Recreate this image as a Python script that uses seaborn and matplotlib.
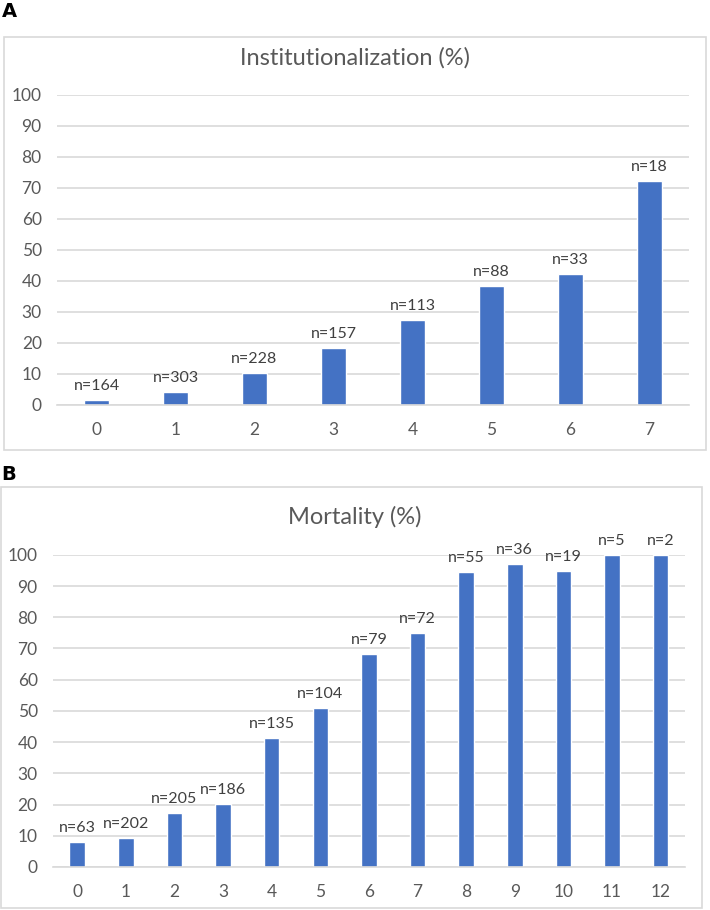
import numpy as np
import matplotlib
matplotlib.use('Agg')
import matplotlib.pyplot as plt
import seaborn as sns
import pandas as pd
from matplotlib.patches import Rectangle

# data
inst_cat = ['0', '1', '2', '3', '4', '5', '6', '7']
inst_pct = [1.6, 4.3, 10.3, 18.3, 27.3, 38.5, 42.3, 72.2]
inst_n = [164, 303, 228, 157, 113, 88, 33, 18]

mort_cat = ['0', '1', '2', '3', '4', '5', '6', '7', '8', '9', '10', '11', '12']
mort_pct = [8.0, 9.4, 17.4, 20.3, 41.4, 50.9, 68.3, 75.1, 94.5, 97.2, 94.8, 100, 100]
mort_n = [63, 202, 205, 186, 135, 104, 79, 72, 55, 36, 19, 5, 2]

sns.set_theme(style='white')
plt.rcParams['font.family'] = ['Lato', 'DejaVu Sans']

bar_col = '#4472C4'
grid_col = '#D9D9D9'
txt_col = '#595959'

fig = plt.figure(figsize=(7.1, 9.1), dpi=100)

# panel boxes
fig.patches.append(Rectangle((0.0056, 0.5055), 0.989, 0.4538, transform=fig.transFigure,
                             fill=False, edgecolor=grid_col, lw=1.2))
fig.patches.append(Rectangle((0.0014, 0.0022), 0.987, 0.4626, transform=fig.transFigure,
                             fill=False, edgecolor=grid_col, lw=1.2))

fig.text(0.002, 0.998, 'A', fontsize=14, fontweight='bold', va='top', ha='left',
         family='DejaVu Sans', color='black')
fig.text(0.002, 0.489, 'B', fontsize=14, fontweight='bold', va='top', ha='left',
         family='DejaVu Sans', color='black')


def panel(rect, cats, vals, ns, title, title_y):
    ax = fig.add_axes(rect)
    d = pd.DataFrame({'cat': cats, 'pct': vals})
    sns.barplot(data=d, x='cat', y='pct', color=bar_col, width=0.32,
                saturation=1, ax=ax)
    ax.bar_label(ax.containers[0], labels=[f'n={n}' for n in ns], padding=5,
                 fontsize=11.5, color='#404040')
    ax.set_ylim(0, 100)
    ax.set_yticks(range(0, 101, 10))
    ax.yaxis.grid(True, color=grid_col, lw=1.2)
    ax.set_axisbelow(True)
    for s in ['top', 'right', 'left']:
        ax.spines[s].set_visible(False)
    ax.spines['bottom'].set_color(grid_col)
    ax.spines['bottom'].set_linewidth(1.2)
    ax.tick_params(axis='both', length=0, labelsize=12.5, labelcolor=txt_col)
    ax.tick_params(axis='y', pad=11)
    ax.tick_params(axis='x', pad=12)
    ax.set_xlabel('')
    ax.set_ylabel('')
    ax.patch.set_alpha(0)
    fig.text(0.5, title_y, title, ha='center', va='center', fontsize=17, color=txt_col)
    return ax


panel([0.0803, 0.555, 0.890, 0.3407], inst_cat, inst_pct, inst_n,
      'Institutionalization (%)', 0.936)
panel([0.0746, 0.0473, 0.890, 0.343], mort_cat, mort_pct, mort_n,
      'Mortality (%)', 0.432)

fig.savefig('out.png', dpi=100)
